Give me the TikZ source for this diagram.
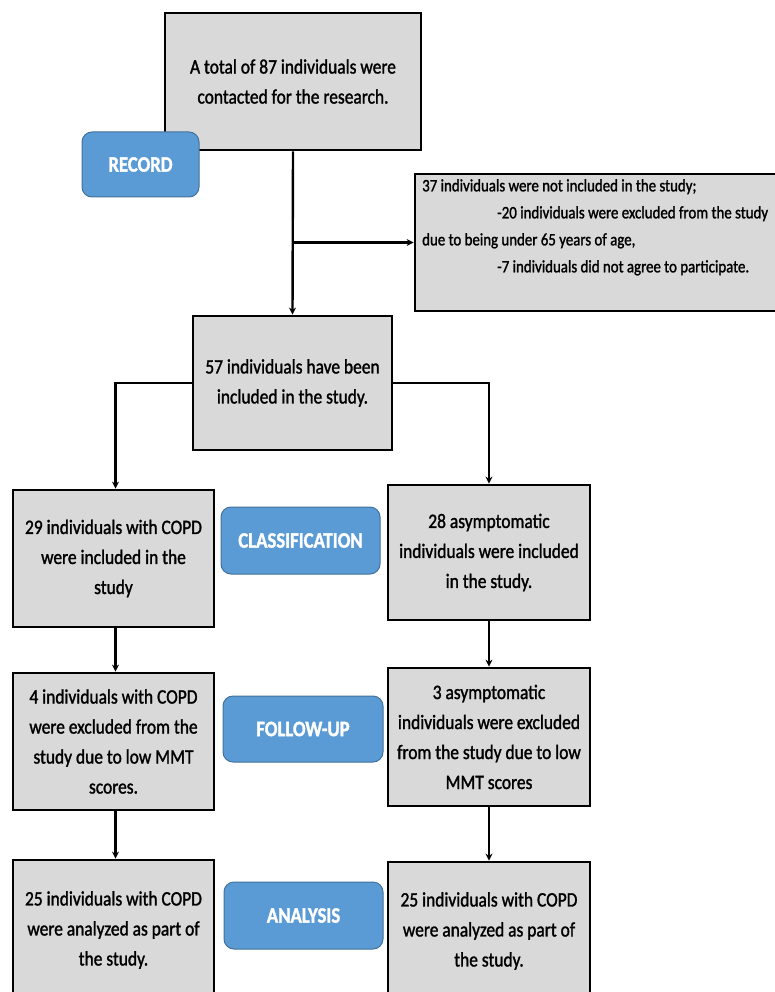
\documentclass[tikz,border=0pt]{standalone}
\usepackage{fontspec}
\setmainfont{Carlito}[FakeStretch=0.85, FakeBold=1.4]
\usetikzlibrary{arrows.meta}
\definecolor{boxgray}{HTML}{D9D9D9}
\definecolor{lblue}{HTML}{5B9BD5}
\definecolor{lbluedark}{HTML}{41719C}
\tikzset{
  graybox/.style={draw=black, line width=2.8pt, fill=boxgray, align=center, inner sep=4pt,
    font=\fontsize{20.5}{30}\selectfont},
  stagelabel/.style={draw=lbluedark, line width=1pt, fill=lblue, rounded corners=10pt,
    text=white, font=\fontsize{22}{26}\selectfont\bfseries, align=center},
  arr/.style={line width=2.4pt, -{Stealth[length=7pt,width=7pt]}}
}
\begin{document}
\begin{tikzpicture}[x=1pt,y=-1pt]
\useasboundingbox (0,0) rectangle (775,992);
\clip (0,0) rectangle (775,992);
% gray boxes
\node[graybox, minimum width=256pt, minimum height=137pt] (top) at (293,81.5)
  {A total of 87 individuals were\\contacted for the research.};
\node[graybox, minimum width=361pt, minimum height=137pt] (excl) at (595.5,242.5) {};
\node[anchor=north west, align=left, inner sep=0pt, font=\fontsize{17.5}{27}\selectfont] (excltext) at (422,179)
  {37 individuals were not included in the study;\\
   \hspace*{75pt}-20 individuals were excluded from the study\\
   due to being under 65 years of age,\\
   \hspace*{75pt}-7 individuals did not agree to participate.};
\node[graybox, minimum width=199pt, minimum height=134pt] (inc) at (292.5,383)
  {57 individuals have been\\included in the study.};
\node[graybox, minimum width=201pt, minimum height=137pt] (copd) at (113.5,558.5)
  {29 individuals with COPD\\were included in the\\study};
\node[graybox, minimum width=202pt, minimum height=135pt] (asym) at (489,552.5)
  {28 asymptomatic\\individuals were included\\in the study.};
\node[graybox, minimum width=201pt, minimum height=137pt] (copdex) at (113.5,741.5)
  {4 individuals with COPD\\were excluded from the\\study due to low MMT\\scores.};
\node[graybox, minimum width=202pt, minimum height=138pt] (asymex) at (489,737)
  {3 asymptomatic\\individuals were excluded\\from the study due to low\\MMT scores};
\node[graybox, minimum width=201pt, minimum height=140pt] (copdan) at (113.5,930)
  {25 individuals with COPD\\were analyzed as part of\\the study.};
\node[graybox, minimum width=202pt, minimum height=138pt] (asyman) at (489,931)
  {25 individuals with COPD\\were analyzed as part of\\the study.};
% stage labels
\node[stagelabel, minimum width=117pt, minimum height=65pt] (record) at (140.5,164.5) {RECORD};
\node[stagelabel, minimum width=159pt, minimum height=67pt] (classif) at (300.5,540.5) {CLASSIFICATION};
\node[stagelabel, minimum width=160pt, minimum height=66pt] (follow) at (303,729) {FOLLOW-UP};
\node[stagelabel, minimum width=159pt, minimum height=67pt] (analysis) at (303.5,915.5) {ANALYSIS};
% connectors
\draw[arr] (top.south) -- (inc.north);
\coordinate (branch) at (top.south |- excl.west);
\draw[arr] (branch) -- (excl.west);
\draw[arr] (inc.west) -| ([xshift=2pt]copd.north);
\draw[arr] (inc.east) -| (asym.north);
\draw[arr] ([xshift=2pt]copd.south) -- ([xshift=2pt]copdex.north);
\draw[arr] (asym.south) -- (asymex.north);
\draw[arr] ([xshift=2pt]copdex.south) -- ([xshift=2pt]copdan.north);
\draw[arr] (asymex.south) -- (asyman.north);
\end{tikzpicture}
\end{document}
